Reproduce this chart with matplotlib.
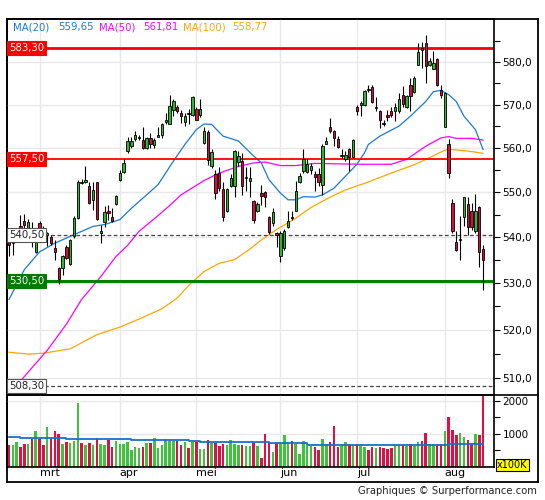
import numpy as np
import matplotlib
matplotlib.use("Agg")
import matplotlib.pyplot as plt
from matplotlib.ticker import FixedLocator, FuncFormatter, NullFormatter
from matplotlib.transforms import blended_transform_factory
from matplotlib.lines import Line2D

# koersdata (dagelijks), gelezen van de grafiek
opens = [539.5, 538.8, 540.4, 542.5, 543.6, 541.7, 541.9, 536.8, 543.2, 542.1,
         540.6, 540.1, 537.7, 533.3, 533.3, 537.9, 534.2, 540.2, 544.2, 552.4,
         552.4, 551.5, 548.3, 552.2, 541.0, 543.3, 545.7, 544.5, 547.4, 552.8,
         554.6, 559.2, 560.4, 562.1, 562.2, 561.9, 559.9, 562.3, 560.6, 562.6,
         562.9, 566.0, 565.5, 568.8, 569.4, 568.0, 565.9, 568.1, 567.6, 569.0,
         567.5, 561.2, 563.7, 555.9, 554.0, 554.4, 550.8, 545.8, 551.5, 551.3,
         556.8, 557.1, 553.3, 552.5, 548.0, 545.9, 549.8, 550.0, 544.4, 543.1,
         541.0, 536.0, 537.7, 542.2, 544.4, 545.8, 552.4, 554.7, 554.6, 555.0,
         554.0, 554.1, 551.7, 561.0, 564.8, 563.8, 562.1, 558.2, 557.4, 559.8,
         558.0, 569.4, 569.9, 569.9, 573.6, 574.1, 569.3, 568.4, 565.8, 567.6,
         568.4, 568.4, 568.4, 572.3, 569.4, 574.6, 573.0, 579.3, 583.3, 584.5,
         579.3, 578.3, 580.7, 573.4, 564.9, 560.8, 547.5, 539.0, 539.5, 544.5,
         547.4, 545.7, 541.3, 546.8, 537.4]
highs = [540.4, 539.9, 541.9, 545.0, 545.2, 544.1, 543.4, 541.5, 543.6, 542.5,
         541.2, 540.4, 539.5, 533.6, 536.2, 538.4, 539.7, 544.7, 552.8, 553.0,
         555.9, 552.4, 552.4, 552.4, 542.8, 546.9, 547.2, 546.5, 549.4, 555.1,
         557.6, 562.4, 562.4, 563.8, 562.9, 564.7, 562.4, 563.5, 562.3, 564.7,
         565.8, 568.0, 572.1, 571.2, 569.9, 568.8, 568.1, 569.0, 571.9, 569.5,
         571.3, 564.7, 564.0, 559.7, 555.1, 555.6, 552.4, 551.0, 554.0, 559.6,
         559.3, 558.9, 555.6, 555.6, 548.3, 547.8, 551.7, 550.2, 544.6, 546.4,
         541.2, 541.3, 541.9, 545.9, 545.7, 552.6, 554.3, 559.7, 557.4, 556.5,
         554.7, 555.5, 560.8, 562.6, 566.9, 564.2, 562.7, 559.7, 559.3, 560.1,
         562.1, 569.9, 570.7, 573.4, 574.6, 574.6, 571.8, 568.8, 566.3, 568.8,
         569.4, 570.3, 572.7, 574.2, 572.3, 576.2, 576.6, 584.5, 584.6, 586.4,
         580.8, 582.5, 580.9, 574.6, 573.0, 562.0, 548.4, 541.3, 544.6, 549.0,
         549.0, 547.5, 549.6, 546.9, 538.2]
lows = [535.8, 536.2, 539.9, 540.4, 541.7, 541.0, 537.9, 536.6, 539.0, 539.9,
        538.0, 538.4, 535.1, 529.8, 531.8, 535.3, 534.0, 539.9, 544.1, 551.9,
        552.1, 547.4, 546.1, 543.9, 538.8, 542.3, 543.9, 543.4, 547.2, 552.6,
        554.4, 558.9, 560.1, 561.7, 561.9, 559.7, 559.7, 560.1, 560.0, 562.4,
        562.3, 565.4, 565.4, 567.3, 568.1, 565.8, 565.0, 565.5, 567.3, 566.3,
        567.0, 561.0, 556.2, 555.5, 548.4, 550.3, 543.6, 545.6, 551.2, 549.0,
        555.9, 549.4, 550.3, 549.0, 543.1, 545.6, 547.2, 546.8, 540.8, 542.4,
        537.8, 534.5, 537.3, 542.0, 543.9, 545.7, 552.1, 554.3, 554.3, 554.2,
        550.2, 551.4, 549.4, 560.8, 563.5, 560.4, 560.0, 557.8, 557.0, 554.7,
        557.8, 567.6, 567.4, 569.7, 573.0, 570.3, 568.4, 564.6, 565.0, 566.1,
        567.1, 566.1, 568.0, 569.5, 569.2, 568.4, 572.7, 579.2, 578.6, 575.1,
        578.9, 578.2, 574.2, 571.5, 564.8, 553.2, 541.0, 536.9, 535.1, 542.4,
        540.6, 541.7, 541.0, 533.6, 528.6]
closes = [538.2, 539.3, 541.2, 541.2, 542.6, 543.4, 539.9, 541.0, 541.0, 540.4,
          541.0, 538.8, 536.8, 530.9, 535.8, 535.5, 539.3, 544.3, 552.4, 552.1,
          552.7, 547.5, 550.5, 544.1, 541.3, 545.5, 545.3, 543.6, 549.2, 554.4,
          556.5, 561.7, 561.7, 562.9, 562.6, 559.9, 562.2, 561.0, 561.9, 562.9,
          565.4, 566.5, 569.7, 570.9, 568.4, 567.4, 567.4, 567.9, 571.7, 566.5,
          569.0, 563.8, 557.2, 559.1, 549.8, 550.9, 544.4, 550.8, 553.2, 559.3,
          558.1, 551.3, 553.5, 553.3, 543.7, 547.3, 549.2, 549.0, 541.1, 545.6,
          540.4, 541.0, 541.3, 543.6, 544.3, 550.3, 553.6, 557.4, 556.4, 556.0,
          553.4, 552.4, 560.4, 561.7, 563.8, 562.3, 560.2, 558.4, 558.5, 557.9,
          561.9, 568.6, 570.3, 573.2, 573.3, 570.5, 569.5, 566.3, 565.4, 567.1,
          567.5, 569.4, 571.2, 570.2, 571.9, 572.0, 576.2, 582.3, 582.9, 579.1,
          580.3, 579.7, 574.6, 572.3, 572.7, 554.3, 541.3, 537.3, 539.7, 548.9,
          542.3, 542.3, 545.7, 536.8, 535.1]
# volume in x100K
volumes = [680, 680, 770, 616, 707, 707, 860, 1100, 860, 680,
           1220, 860, 1100, 1010, 707, 770, 740, 800, 1950, 740,
           680, 740, 680, 890, 707, 680, 830, 616, 800, 707,
           707, 770, 525, 616, 586, 616, 740, 740, 890, 586,
           680, 860, 800, 800, 800, 680, 770, 586, 770, 770,
           556, 556, 830, 740, 740, 646, 707, 680, 830, 707,
           680, 680, 646, 646, 740, 646, 283, 1010, 727, 455,
           727, 727, 960, 727, 798, 707, 404, 798, 646, 626,
           596, 525, 859, 707, 768, 1253, 596, 677, 768, 707,
           677, 707, 657, 616, 525, 616, 586, 616, 586, 556,
           586, 657, 707, 677, 646, 707, 626, 768, 798, 1030,
           707, 707, 707, 707, 1101, 1525, 1131, 980, 1030, 899,
           828, 707, 1010, 960, 2300]

ma20_idx = [0, 4, 8, 12, 16, 22, 25, 29, 32, 36, 39, 43, 46, 49, 51, 53, 56, 60, 63, 66,
            68, 71, 73, 75, 77, 80, 82, 85, 88, 91, 93, 94, 97, 102, 105, 109, 111, 113,
            115, 117, 119, 122, 124]
ma20_val = [526.5, 532.9, 536.8, 538.7, 540.2, 542.4, 542.8, 543.9, 546.4, 549.4, 551.7,
            557.0, 560.8, 564.2, 565.5, 565.4, 562.7, 561.6, 559.0, 556.6, 552.8, 549.8,
            548.3, 548.3, 549.0, 548.9, 549.4, 550.9, 553.6, 556.3, 558.9, 560.8, 562.7,
            565.0, 567.3, 570.7, 573.0, 573.3, 572.3, 570.7, 567.3, 564.2, 559.65]
ma50_idx = [1, 3, 10, 15, 19, 24, 28, 31, 34, 39, 42, 45, 48, 51, 55, 60, 64, 67, 71, 75,
            80, 85, 92, 100, 104, 109, 113, 115, 117, 121, 124]
ma50_val = [507.5, 509.3, 515.7, 521.2, 526.5, 531.4, 535.8, 538.2, 541.3, 544.8, 547.0,
            549.4, 551.0, 552.6, 554.3, 555.8, 556.6, 556.8, 556.0, 556.0, 556.5, 556.4,
            556.3, 556.3, 557.4, 560.4, 562.3, 562.6, 562.2, 562.2, 561.81]
ma100_idx = [0, 5, 9, 16, 23, 29, 34, 40, 44, 47, 51, 55, 59, 63, 66, 70, 75, 79, 84, 88,
             94, 100, 106, 110, 114, 115, 120, 124]
ma100_val = [515.3, 514.9, 515.1, 516.0, 519.0, 520.6, 522.3, 524.5, 526.8, 529.5, 532.5,
             534.3, 535.1, 537.4, 539.4, 541.7, 544.2, 546.6, 548.9, 550.5, 552.3, 554.3,
             556.2, 557.8, 559.5, 559.7, 559.3, 558.77]
vma_idx = [0, 3, 15, 18, 20, 32, 47, 50, 63, 68, 78, 115, 124]
vma_val = [919, 879, 848, 858, 848, 818, 788, 758, 747, 727, 677, 697, 727]

# niveaus
levels = [583.30, 557.50, 540.50, 530.50, 508.30]
level_labels = ['583,30', '557,50', '540,50', '530,50', '508,30']

months = ['mrt', 'apr', 'mei', 'jun', 'jul', 'aug']
month_idx = [8, 29, 49, 71, 91, 114]

legend_items = [('MA(20)', '#1a78d4'), ('559,65', '#1a78d4'),
                ('MA(50)', '#ff00ff'), ('561,81', '#ff00ff'),
                ('MA(100)', '#ffa500'), ('558,77', '#ffa500')]

W, H = 545, 500
def fx(px):
    return px / W
def fy(py):
    return 1 - py / H

n = len(closes)
idx = np.arange(n)
o = np.array(opens); c = np.array(closes)
up = c >= o

fig = plt.figure(figsize=(5.45, 5.0), dpi=100)

# buitenkader
axf = fig.add_axes([fx(7), fy(482), fx(538) - fx(7), fy(19) - fy(482)], zorder=0)
axf.set_xticks([]); axf.set_yticks([])
for s in axf.spines.values():
    s.set_linewidth(1.3)

# koersgrafiek
ax = fig.add_axes([fx(7), fy(395), (494 - 7) / W, (395 - 19) / H], zorder=1)
ax.patch.set_alpha(0)
ax.set_yscale('log')
ax.set_ylim(506.4, 590.2)
ax.set_xlim(-0.52, 126.86)
ax.yaxis.tick_right()
ax.yaxis.set_major_locator(FixedLocator(list(range(510, 590, 10))))
ax.yaxis.set_minor_locator(FixedLocator(list(range(515, 590, 10))))
ax.yaxis.set_major_formatter(FuncFormatter(lambda v, p: ('%.1f' % v).replace('.', ',')))
ax.yaxis.set_minor_formatter(NullFormatter())
ax.tick_params(axis='y', which='both', direction='out', length=4, width=0.8,
               labelsize=7.5, pad=2)
ax.set_xticks(month_idx)
ax.tick_params(axis='x', length=0, labelbottom=False)
ax.grid(True, which='major', color='#e8e8e8', linewidth=1)
ax.set_axisbelow(True)
for s in ax.spines.values():
    s.set_linewidth(1.2)

# MA lijnen
ax.plot(ma100_idx, ma100_val, color='#ffa500', lw=0.9, zorder=2)
ax.plot(ma50_idx, ma50_val, color='#ff00ff', lw=0.9, zorder=2)
ax.plot(ma20_idx, ma20_val, color='#1a78d4', lw=0.9, zorder=2)

# niveaulijnen
ax.axhline(levels[0], color='#ff0000', lw=2, zorder=2.5)
ax.axhline(levels[1], color='#ff0000', lw=1.3, zorder=2.5)
ax.axhline(levels[2], color='#444444', lw=0.9, ls=(0, (3, 2)), zorder=2.5)
ax.axhline(levels[3], color='#008000', lw=2.2, zorder=2.5)
ax.axhline(levels[4], color='#444444', lw=0.9, ls=(0, (3, 2)), zorder=2.5)

# candles
ax.vlines(idx, lows, highs, colors='black', lw=0.8, zorder=3)
ax.bar(idx, np.abs(c - o), bottom=np.minimum(o, c), width=0.62,
       color=np.where(up, '#2fb52f', '#d0103a'), edgecolor='black',
       linewidth=0.6, zorder=4)

# labels bij niveaus
trans = blended_transform_factory(ax.transAxes, ax.transData)
box_styles = [('#ff0000', '#ff0000', 'white'), ('#ff0000', '#ff0000', 'white'),
              ('white', '#555555', '#222222'), ('#007a00', '#007a00', 'white'),
              ('white', '#555555', '#222222')]
for lv, lab, (fc, ec, tc) in zip(levels, level_labels, box_styles):
    ax.text(0.004, lv, lab, transform=trans, ha='left', va='center', fontsize=7.3,
            color=tc, zorder=6,
            bbox=dict(boxstyle='square,pad=0.18', fc=fc, ec=ec, lw=0.8))

# legenda bovenaan
leg_x = [13.3, 58.3, 98.7, 142.7, 182.7, 232.3]
for (txt, col), px in zip(legend_items, leg_x):
    fig.text(fx(px), fy(27), txt, color=col, fontsize=7.3, ha='left', va='center')

# volume
axv = fig.add_axes([fx(7), fy(467), (494 - 7) / W, (467 - 395) / H], zorder=1)
axv.patch.set_alpha(0)
axv.set_xlim(-0.52, 126.86)
axv.set_ylim(0, 2180)
axv.bar(idx, volumes, width=0.66, color=np.where(up, '#3cc43c', '#dd1144'), zorder=2)
axv.plot(vma_idx, vma_val, color='#1a6fcc', lw=1.3, drawstyle='steps-post', zorder=3)
axv.yaxis.tick_right()
axv.yaxis.set_major_locator(FixedLocator([1000, 2000]))
axv.yaxis.set_minor_locator(FixedLocator([500, 1500]))
axv.yaxis.set_minor_formatter(NullFormatter())
axv.tick_params(axis='y', which='both', direction='out', length=4, width=0.8,
                labelsize=7.5, pad=2)
axv.set_xticks(month_idx)
axv.set_xticklabels(months, ha='left')
axv.tick_params(axis='x', length=0, labelsize=8, pad=1)
axv.grid(True, which='major', color='#e8e8e8', linewidth=1)
axv.set_axisbelow(True)
for s in axv.spines.values():
    s.set_linewidth(1.2)

fig.add_artist(Line2D([fx(494), fx(538)], [fy(395), fy(395)], color='black', lw=1.2))

fig.text(fx(497), fy(465), 'x100K', ha='left', va='center', fontsize=7,
         bbox=dict(boxstyle='square,pad=0.15', fc='#ffff00', ec='black', lw=0.8))
fig.text(fx(537), fy(491), 'Graphiques \u00a9 Surperformance.com', ha='right',
         va='center', fontsize=7.2, color='#222222')

fig.savefig('out.png', dpi=100)
